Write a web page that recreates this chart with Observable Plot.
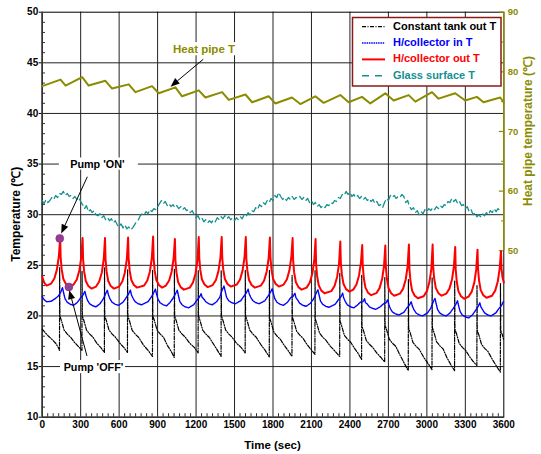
<!DOCTYPE html>
<html>
<head>
<meta charset="utf-8">
<script src="https://cdn.jsdelivr.net/npm/d3@7"></script>
<script src="https://cdn.jsdelivr.net/npm/@observablehq/plot@0.6"></script>
<style>
  html, body { margin: 0; padding: 0; background: white; }
</style>
</head>
<body>
<div id="chart"></div>
<script>
// ---------- data ----------
const xTicks = [0, 300, 600, 900, 1200, 1500, 1800, 2100, 2400, 2700, 3000, 3300, 3600];
const yTicks = [10, 15, 20, 25, 30, 35, 40, 45, 50];
const rightTicks = [50, 60, 70, 80, 90];
const rightMinor = [55, 65, 75, 85];

// H/collector out T (red)  [time s, °C]
const collectorOut = [
[0,23.9],[15,23.3],[35,23.0],[70,23.2],[95,23.7],[115,24.6],[130,25.9],
[140,27.7],[144,25.8],[152,24.6],[165,23.65],[185,23.15],[210,22.9],[245,23.1],[270,23.6],[290,24.5],[305,25.8],
[315,27.7],[319,25.6],[327,24.4],[340,23.45],[360,22.95],[385,22.7],[420,22.9],[445,23.4],[465,24.3],[480,25.6],
[490,27.7],[494,25.6],[502,24.4],[515,23.45],[535,22.95],[560,22.7],[600,22.9],[625,23.4],[645,24.3],[660,25.6],
[670,27.75],[674,25.7],[682,24.5],[695,23.55],[715,23.05],[740,22.8],[795,23.0],[820,23.5],[840,24.4],[855,25.7],
[865,27.85],[869,25.7],[877,24.5],[890,23.55],[910,23.05],[935,22.8],[965,23.0],[990,23.5],[1010,24.4],[1025,25.7],
[1035,27.6],[1039,25.5],[1047,24.3],[1060,23.35],[1080,22.85],[1105,22.6],[1151,22.8],[1176,23.3],[1196,24.2],[1211,25.5],
[1221,27.8],[1225,25.75],[1233,24.55],[1246,23.6],[1266,23.1],[1291,22.85],[1330,23.05],[1355,23.55],[1375,24.45],[1390,25.75],
[1400,27.8],[1404,25.8],[1412,24.6],[1425,23.65],[1445,23.15],[1470,22.9],[1518,23.1],[1543,23.6],[1563,24.5],[1578,25.8],
[1588,27.8],[1592,25.7],[1600,24.5],[1613,23.55],[1633,23.05],[1658,22.8],[1706,23.0],[1731,23.5],[1751,24.4],[1766,25.7],
[1776,27.75],[1780,25.8],[1788,24.6],[1801,23.65],[1821,23.15],[1846,22.9],[1883,23.1],[1908,23.6],[1928,24.5],[1943,25.8],
[1953,27.7],[1957,25.5],[1965,24.3],[1978,23.35],[1998,22.85],[2023,22.6],[2062,22.8],[2087,23.3],[2107,24.2],[2122,25.5],
[2132,27.6],[2136,25.15],[2144,23.95],[2157,23.0],[2177,22.5],[2202,22.25],[2255,22.45],[2280,22.95],[2300,23.85],[2315,25.15],
[2325,27.35],[2329,25.3],[2337,24.1],[2350,23.15],[2370,22.65],[2395,22.4],[2426,22.6],[2451,23.1],[2471,24.0],[2486,25.3],
[2496,27.0],[2500,24.95],[2508,23.75],[2521,22.8],[2541,22.3],[2566,22.05],[2606,22.25],[2631,22.75],[2651,23.65],[2666,24.95],
[2676,26.95],[2680,24.9],[2688,23.7],[2701,22.75],[2721,22.25],[2746,22.0],[2790,22.2],[2815,22.7],[2835,23.6],[2850,24.9],
[2860,27.05],[2864,24.65],[2872,23.45],[2885,22.5],[2905,22.0],[2930,21.75],[2975,21.95],[3000,22.45],[3020,23.35],[3035,24.65],
[3045,27.05],[3049,24.9],[3057,23.7],[3070,22.75],[3090,22.25],[3115,22.0],[3151,22.2],[3176,22.7],[3196,23.6],[3211,24.9],
[3221,26.8],[3225,24.6],[3233,23.4],[3246,22.45],[3266,21.95],[3291,21.7],[3325,21.9],[3350,22.4],[3370,23.3],[3385,24.6],
[3395,26.55],[3399,24.7],[3407,23.5],[3420,22.55],[3440,22.05],[3465,21.8],[3508,22.0],[3533,22.5],[3553,23.4],[3568,24.7],
[3578,26.4],[3582,24.7],[3590,23.8],[3600,23.3]
];

// H/collector in T (blue)
const collectorIn = [
[0,21.9],[15,21.6],[35,21.4],[70,21.45],[100,21.7],[125,21.95],[145,22.35],
[158,22.8],[166,22.35],[178,21.7],[195,21.35],[220,21.15],[245,21.05],[275,21.35],[300,21.8],[320,22.1],
[333,22.45],[341,22.0],[353,21.55],[370,21.2],[395,21.0],[420,20.9],[450,21.2],[475,21.65],[495,22.2],
[508,22.55],[516,22.1],[528,21.7],[545,21.35],[570,21.15],[595,21.05],[630,21.35],[655,21.8],[675,22.2],
[688,22.55],[696,22.1],[708,21.75],[725,21.4],[750,21.2],[775,21.1],[825,21.4],[850,21.85],[870,22.3],
[883,22.65],[891,22.2],[903,21.65],[920,21.3],[945,21.1],[970,21.0],[995,21.3],[1020,21.75],[1040,22.2],
[1053,22.55],[1061,22.1],[1073,21.45],[1090,21.1],[1115,20.9],[1140,20.8],[1181,21.1],[1206,21.55],[1226,21.85],
[1239,22.2],[1247,21.85],[1259,21.7],[1276,21.4],[1301,21.2],[1326,21.1],[1360,21.4],[1385,21.85],[1405,22.6],
[1418,22.95],[1426,22.5],[1438,21.85],[1455,21.5],[1480,21.3],[1505,21.2],[1548,21.5],[1573,21.95],[1593,22.3],
[1606,22.65],[1614,22.2],[1626,21.85],[1643,21.5],[1668,21.3],[1693,21.2],[1736,21.5],[1761,21.95],[1781,22.35],
[1794,22.7],[1802,22.25],[1814,21.7],[1831,21.35],[1856,21.15],[1881,21.05],[1913,21.35],[1938,21.8],[1958,21.95],
[1971,22.25],[1979,21.8],[1991,21.6],[2008,21.25],[2033,21.05],[2058,20.95],[2092,21.25],[2117,21.7],[2137,22.25],
[2150,22.6],[2158,22.15],[2170,21.5],[2187,21.15],[2212,20.95],[2237,20.85],[2285,21.15],[2310,21.6],[2330,21.9],
[2343,22.25],[2351,21.8],[2363,21.45],[2380,21.1],[2405,20.9],[2430,20.8],[2456,21.05],[2481,21.35],[2501,21.4],
[2514,21.7],[2522,21.3],[2534,21.2],[2551,20.9],[2576,20.75],[2601,20.65],[2636,20.9],[2661,21.2],[2681,21.3],
[2694,21.6],[2702,21.2],[2714,20.75],[2731,20.4],[2756,20.2],[2781,20.1],[2820,20.35],[2845,20.8],[2865,21.1],
[2878,21.4],[2886,21.0],[2898,20.65],[2915,20.3],[2940,20.1],[2965,20.0],[3005,20.3],[3030,20.75],[3050,21.4],
[3063,21.75],[3071,21.3],[3083,20.65],[3100,20.3],[3125,20.1],[3150,20.0],[3181,20.3],[3206,20.75],[3226,21.15],
[3239,21.5],[3247,21.05],[3259,20.45],[3276,20.1],[3301,19.9],[3326,19.8],[3355,20.1],[3380,20.55],[3400,20.95],
[3413,21.3],[3421,20.9],[3433,20.65],[3450,20.3],[3475,20.1],[3500,20.0],[3538,20.3],[3563,20.75],[3583,21.05],
[3596,21.4],[3600,21.35]
];

// Constant tank out T (black)
const tankOut = [
[0,18.7],[20,18.4],[45,18.05],[75,17.7],[105,17.3],[125,16.9],[135,16.6],
[136,24.8],[138,20.0],[151,19.5],[171,18.6],[196,18.2],[221,17.9],[251,17.4],[281,17.0],[310,16.6],
[311,24.4],[313,20.0],[326,19.5],[346,18.6],[371,18.2],[396,17.9],[426,17.3],[456,16.9],[485,16.4],
[486,24.8],[488,20.0],[501,19.5],[521,18.6],[546,18.2],[571,17.9],[606,17.3],[636,16.9],[665,16.4],
[666,24.6],[668,20.0],[681,19.5],[701,18.6],[726,18.2],[751,17.9],[791,17.1],[826,16.6],[860,16.0],
[861,24.5],[863,20.0],[876,19.5],[896,18.6],[921,18.2],[946,17.9],[976,17.1],[1006,16.5],[1030,15.9],
[1031,24.6],[1033,20.0],[1046,19.5],[1066,18.6],[1091,18.2],[1116,17.9],[1151,17.3],[1186,16.9],[1216,16.35],
[1217,24.5],[1219,20.0],[1232,19.5],[1252,18.6],[1277,18.2],[1302,17.9],[1337,17.2],[1367,16.6],[1395,16.0],
[1396,24.5],[1398,20.0],[1411,19.5],[1431,18.6],[1456,18.2],[1481,17.9],[1516,17.3],[1551,16.9],[1583,16.35],
[1584,24.5],[1586,20.0],[1599,19.5],[1619,18.6],[1644,18.2],[1669,17.9],[1704,17.2],[1739,16.6],[1771,15.95],
[1772,24.5],[1774,19.8],[1787,19.3],[1807,18.4],[1832,18.0],[1857,17.7],[1887,17.1],[1917,16.6],[1948,16.0],
[1949,24.0],[1951,19.9],[1964,19.4],[1984,18.5],[2009,18.1],[2034,17.8],[2064,17.2],[2096,16.7],[2127,16.2],
[2128,24.5],[2130,19.7],[2143,19.2],[2163,18.3],[2188,17.9],[2213,17.6],[2248,17.0],[2285,16.5],[2320,16.0],
[2321,24.2],[2323,19.5],[2336,19.0],[2356,18.1],[2381,17.7],[2406,17.4],[2436,16.8],[2464,16.3],[2491,15.7],
[2492,24.0],[2494,19.0],[2507,18.5],[2527,17.6],[2552,17.2],[2577,16.9],[2612,16.3],[2642,15.9],[2671,15.45],
[2672,23.8],[2674,19.1],[2687,18.6],[2707,17.7],[2732,17.3],[2757,17.0],[2792,16.1],[2825,15.3],[2855,14.6],
[2856,23.6],[2858,18.8],[2871,18.3],[2891,17.4],[2916,17.0],[2941,16.7],[2976,15.9],[3010,15.3],[3040,14.7],
[3041,23.8],[3043,18.85],[3056,18.35],[3076,17.45],[3101,17.05],[3126,16.75],[3156,15.9],[3186,15.2],[3216,14.6],
[3217,23.5],[3219,18.7],[3232,18.2],[3252,17.3],[3277,16.9],[3302,16.6],[3332,16.0],[3362,15.5],[3390,15.1],
[3391,23.0],[3393,18.6],[3406,18.1],[3426,17.2],[3451,16.8],[3476,16.5],[3511,15.7],[3545,15.0],[3573,14.45],
[3574,23.2],[3576,18.6],[3589,18.1],[3600,17.6]
];

// Glass surface T (teal), sampled every 15 s
const glassStep = 15;
const glassTemp = [
31.4,31.1,31.5,31.2,31.4,31.7,31.5,31.9,31.7,32.1,32.0,32.3,31.9,32.1,31.8,31.9,31.6,31.8,31.5,31.7,
31.3,31.0,30.6,30.9,30.3,30.5,30.2,30.4,30.0,29.9,30.1,29.7,29.9,29.5,29.7,29.4,29.6,29.2,29.4,29.0,
28.8,29.1,28.7,29.0,28.6,28.8,28.5,28.7,29.0,29.3,29.5,29.9,30.1,30.0,30.3,30.1,30.5,30.3,30.6,30.5,
30.8,31.1,31.4,31.1,31.3,30.9,31.1,30.8,31.0,30.7,30.9,30.6,30.8,30.5,30.7,30.4,30.5,30.2,30.4,30.0,
29.7,29.9,29.5,29.7,29.3,29.5,29.2,29.4,29.2,29.5,29.3,29.7,29.5,29.8,29.6,29.9,29.6,29.8,29.5,29.7,
29.4,29.7,29.5,29.8,29.6,30.0,29.8,30.2,30.0,30.4,30.3,30.7,30.5,31.0,30.8,31.2,31.0,31.4,31.2,31.6,
31.4,31.9,31.7,32.2,31.8,31.5,31.7,31.4,31.7,31.5,31.8,31.5,31.7,31.6,31.8,31.5,31.7,31.4,31.6,31.2,
31.4,31.0,31.2,30.8,31.0,30.7,30.9,30.7,31.0,30.9,31.2,31.1,31.4,31.3,31.7,31.6,32.0,31.9,32.3,32.0,
32.2,31.8,32.0,31.7,31.9,31.6,31.8,31.5,31.7,31.4,31.6,31.3,31.5,31.1,31.3,30.9,31.0,30.7,31.2,31.6,
31.4,31.9,31.7,31.9,31.6,31.8,31.7,32.0,31.8,31.2,31.4,30.8,30.5,30.7,30.2,30.4,30.0,30.3,30.1,30.5,
30.3,30.6,30.4,30.7,30.5,30.8,30.6,30.9,30.7,31.0,30.9,31.3,31.2,31.6,31.3,31.5,31.1,31.3,30.9,31.0,
30.6,30.8,30.3,30.5,30.0,30.2,29.8,30.0,29.8,30.1,29.9,30.2,30.0,30.4,30.2,30.6,30.3,30.6,30.4,30.5
];
const glassSurface = glassTemp.map((v, i) => [i * glassStep, v]);

// Heat pipe T (olive), in right-axis units (°C)
const heatPipe = [
[0,77.6],[143,78.7],[182,77.7],[312,79.1],[362,77.7],[493,78.5],[545,77.2],[675,77.9],[727,76.6],
[857,77.6],[909,76.4],[1039,77.4],[1091,75.9],[1221,76.9],[1273,75.7],[1403,76.6],[1455,75.3],
[1585,76.2],[1637,74.9],[1766,75.9],[1818,74.7],[1948,75.7],[2013,74.6],[2130,75.9],[2195,74.8],
[2325,76.1],[2390,74.9],[2494,75.8],[2559,74.7],[2676,76.4],[2741,75.2],[2858,76.1],[2910,75.0],
[3040,76.6],[3091,75.5],[3221,76.4],[3299,75.2],[3390,75.8],[3442,74.9],[3572,75.7],[3600,74.9]
];

// annotations
const pumpMarkers = [[137, 27.66], [208, 22.87]];
const labels = [
  {text: "Heat pipe T", t: 1262, v: 46.3, size: 11.5, color: "#8b8b00"},
  {text: "Pump 'ON'", t: 430, v: 35.0, size: 10.8, color: "black"},
  {text: "Pump 'OFF'", t: 400, v: 14.9, size: 10.8, color: "black"}
];
const labelMasks = [
  {t1: 990, t2: 1540, v1: 45.7, v2: 47.0},
  {t1: 134, t2: 750, v1: 34.4, v2: 35.6},
  {t1: 143, t2: 650, v1: 14.3, v2: 15.6}
];
const arrows = [
  {x1: 1260, y1: 45.3, x2: 1005, y2: 42.6},
  {x1: 356, y1: 33.7, x2: 152, y2: 28.1},
  {x1: 353, y1: 16.0, x2: 215, y2: 22.5}
];
const legendItems = [
  {label: "Constant tank out T", color: "black", dash: "4,1.5,1,1.5", width: 1.2},
  {label: "H/collector in T", color: "#0000ff", dash: "1.5,0.8", width: 1.4},
  {label: "H/collector out T", color: "#ff0000", dash: null, width: 2},
  {label: "Glass surface T", color: "#139090", dash: "7,6", width: 1.6}
];

// ---------- chart ----------
const olive = "#8b8b00";
const rightToLeft = d3.scaleLinear([50, 90], [26.44, 50]);
const yMinor = d3.range(11, 50).filter(d => d % 5 !== 0);
const xMinor = d3.range(0, 84).map(i => i * 300 / 7).filter((d, i) => i % 7 !== 0 && d < 3600);

const chart = Plot.plot({
  width: 541,
  height: 454,
  marginLeft: 41.7,
  marginRight: 37.7,
  marginTop: 11.7,
  marginBottom: 37.3,
  style: {fontFamily: "Liberation Sans, Arial, sans-serif", fontSize: "10px", fontWeight: "bold", background: "white", color: "black"},
  x: {domain: [0, 3600], ticks: xTicks, tickFormat: d => String(d), tickSize: 0, tickPadding: 4, label: null},
  y: {domain: [10, 50], ticks: yTicks, tickFormat: d => String(d), tickSize: 3, tickPadding: 1, label: null},
  marks: [
    Plot.ruleX(xTicks.slice(1, -1), {stroke: "#222", strokeWidth: 1}),
    Plot.ruleY(yTicks.slice(1, -1), {stroke: "#222", strokeWidth: 1}),
    Plot.rect(labelMasks, {x1: "t1", x2: "t2", y1: "v1", y2: "v2", fill: "white"}),
    Plot.ruleY(yMinor, {x1: 0, x2: 26, stroke: "#333", strokeWidth: 1}),
    Plot.ruleX(xMinor, {y1: 10, y2: 10.35, stroke: "#333", strokeWidth: 1}),
    Plot.frame({stroke: "black", strokeWidth: 1}),
    Plot.ruleX([0], {stroke: "#333", strokeWidth: 1.6}),
    Plot.ruleY([10], {stroke: "#333", strokeWidth: 1.6}),
    // right axis
    Plot.ruleX([3600], {y1: rightToLeft(50), y2: 50, stroke: olive, strokeWidth: 1.6}),
    Plot.ruleY(rightTicks, {y: d => rightToLeft(d), x1: 3565, x2: 3600, stroke: olive, strokeWidth: 1.2}),
    Plot.ruleY(rightMinor, {y: d => rightToLeft(d), x1: 3582, x2: 3600, stroke: olive, strokeWidth: 1}),
    Plot.text(rightTicks, {y: d => rightToLeft(d), x: 3600, text: d => String(d), dx: 4, textAnchor: "start", fill: olive, fontSize: 9.5, fontWeight: "bold"}),
    // series
    Plot.line(glassSurface, {x: d => d[0], y: d => d[1], stroke: "#139090", strokeWidth: 1.3, strokeDasharray: "7,4"}),
    Plot.line(heatPipe, {x: d => d[0], y: d => rightToLeft(d[1]), stroke: olive, strokeWidth: 2}),
    Plot.line(tankOut, {x: d => d[0], y: d => d[1], stroke: "black", strokeWidth: 1.2, strokeDasharray: "4,1.5,1,1.5"}),
    Plot.line(collectorIn, {x: d => d[0], y: d => d[1], stroke: "#0000ff", strokeWidth: 1.4, strokeDasharray: "1.5,0.8"}),
    Plot.line(collectorOut, {x: d => d[0], y: d => d[1], stroke: "#ff0000", strokeWidth: 2}),
    Plot.dot(pumpMarkers, {x: d => d[0], y: d => d[1], r: 4, fill: "#933d93", stroke: "#7a2a7a", strokeWidth: 0.5}),
    Plot.text(labels, {x: "t", y: "v", text: "text", fill: "color", fontSize: "size", fontWeight: "bold"})
  ]
});

const xs = chart.scale("x"), ys = chart.scale("y");
const X = v => xs.apply(v), Y = v => ys.apply(v);
const svg = d3.select(chart);
const g = svg.append("g").attr("text-anchor", "start");

// arrows with filled heads
for (const a of arrows) {
  const x1 = X(a.x1), y1 = Y(a.y1), x2 = X(a.x2), y2 = Y(a.y2);
  const ang = Math.atan2(y2 - y1, x2 - x1);
  const L = 9, W = 3.6;
  const bx = x2 - L * Math.cos(ang), by = y2 - L * Math.sin(ang);
  g.append("line").attr("x1", x1).attr("y1", y1).attr("x2", bx).attr("y2", by)
    .attr("stroke", "black").attr("stroke-width", 1);
  g.append("path")
    .attr("d", `M${x2},${y2}L${bx + W * Math.sin(ang)},${by - W * Math.cos(ang)}L${bx - W * Math.sin(ang)},${by + W * Math.cos(ang)}Z`)
    .attr("fill", "black");
}

// axis titles
const font = "Liberation Sans, Arial, sans-serif";
g.append("text").attr("x", (X(0) + X(3600)) / 2).attr("y", 449)
  .attr("text-anchor", "middle").attr("font-size", 11.5).attr("font-weight", "bold").attr("font-family", font)
  .text("Time (sec)");
g.append("text").attr("transform", `translate(17,${(Y(10) + Y(50)) / 2}) rotate(-90)`)
  .attr("text-anchor", "middle").attr("dominant-baseline", "middle").attr("font-size", 12).attr("font-weight", "bold").attr("font-family", font)
  .text("Temperature (℃)");
g.append("text").attr("transform", `translate(529,${(Y(rightToLeft(50)) + Y(50)) / 2}) rotate(-90)`)
  .attr("text-anchor", "middle").attr("dominant-baseline", "middle").attr("font-size", 12).attr("font-weight", "bold").attr("font-family", font)
  .attr("fill", olive).text("Heat pipe temperature (℃)");

// legend
const lg = g.append("g");
lg.append("rect").attr("x", 352.5).attr("y", 17.5).attr("width", 148.5).attr("height", 68.5)
  .attr("fill", "white").attr("stroke", "#8b1a1a").attr("stroke-width", 1.5);
legendItems.forEach((it, i) => {
  const yy = 26.7 + i * 16.35;
  const ln = lg.append("line").attr("x1", 362).attr("x2", 385).attr("y1", yy).attr("y2", yy)
    .attr("stroke", it.color).attr("stroke-width", it.width);
  if (it.dash) ln.attr("stroke-dasharray", it.dash);
  lg.append("text").attr("x", 393).attr("y", yy).attr("dominant-baseline", "middle")
    .attr("text-anchor", "start")
    .attr("font-size", 11).attr("font-weight", "bold").attr("font-family", font)
    .attr("fill", it.color).text(it.label);
});

document.getElementById("chart").appendChild(chart);
</script>
</body>
</html>
